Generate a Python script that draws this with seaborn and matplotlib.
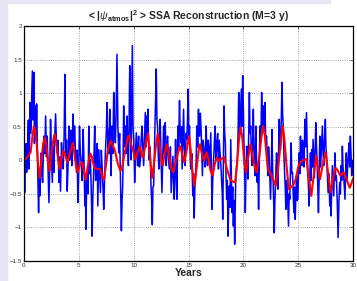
"""
SSA reconstruction chart: raw series (blue) and reconstruction (red)
"""
import matplotlib
matplotlib.use('Agg')
import matplotlib.pyplot as plt
from matplotlib.patches import Rectangle
import pandas as pd
import seaborn as sns

# raw series, (year, value), one list per decade
raw_decade1 = [
    (0.00, 0.00), (0.03, -0.20), (0.06, -0.48), (0.10, -0.10), (0.15, 0.11), (0.20, 0.25),
    (0.24, -0.18), (0.30, 0.05), (0.36, 0.36), (0.40, 0.60), (0.45, -0.13), (0.50, 0.30),
    (0.55, 0.86), (0.60, 0.40), (0.64, 0.51), (0.70, 0.95), (0.76, 1.33), (0.80, 0.60),
    (0.85, 0.71), (0.88, 1.05), (0.91, 1.31), (0.95, 0.25), (1.00, 0.51), (1.03, 0.30),
    (1.06, 0.81), (1.10, 0.35), (1.15, 0.84), (1.20, 0.40), (1.24, -0.08), (1.28, -0.40),
    (1.33, -0.78), (1.39, -0.20), (1.45, -0.53), (1.52, -0.15), (1.58, 0.11), (1.64, -0.20),
    (1.70, -0.33), (1.76, 0.05), (1.82, 0.36), (1.90, 0.10), (1.97, 0.66), (2.05, 0.05),
    (2.12, 0.36), (2.20, -0.20), (2.27, -0.63), (2.35, -0.10), (2.42, 0.61), (2.50, 0.10),
    (2.58, -0.33), (2.66, 0.20), (2.73, -0.18), (2.80, 0.35), (2.88, 0.69), (2.95, 0.30),
    (3.03, 0.11), (3.10, 0.30), (3.18, -0.33), (3.25, 0.05), (3.33, -0.46), (3.38, -0.10),
    (3.42, 0.26), (3.50, 0.00), (3.58, -0.13), (3.66, 0.40), (3.73, 1.28), (3.78, 0.50),
    (3.82, 0.11), (3.88, 0.30), (3.94, -0.46), (4.02, -0.05), (4.09, 0.51), (4.16, 0.00),
    (4.24, 0.21), (4.30, 0.45), (4.36, -0.08), (4.42, 0.20), (4.48, 0.69), (4.55, 0.20),
    (4.61, 0.51), (4.70, 0.10), (4.79, -0.18), (4.85, 0.15), (4.91, -0.63), (4.98, -0.20),
    (5.06, 0.51), (5.14, 0.10), (5.21, -0.03), (5.30, -0.30), (5.39, 0.46), (5.47, 0.00),
    (5.55, -0.68), (5.60, -0.30), (5.64, -1.03), (5.70, -0.50), (5.76, -0.18), (5.84, -0.50),
    (5.91, 0.51), (5.98, -0.20), (6.06, 0.01), (6.14, -0.50), (6.21, -1.13), (6.28, -0.55),
    (6.36, -0.13), (6.40, 0.20), (6.45, 0.51), (6.53, -0.30), (6.61, -0.08), (6.67, 0.25),
    (6.73, -0.68), (6.78, -0.20), (6.82, 0.16), (6.90, -0.20), (6.97, -0.48), (7.05, 0.15),
    (7.12, -0.08), (7.20, -0.40), (7.27, -0.73), (7.35, -0.30), (7.42, 0.11), (7.50, 0.40),
    (7.58, 0.86), (7.66, 0.10), (7.73, 0.46), (7.78, 0.10), (7.82, 0.76), (7.88, 0.20),
    (7.94, -0.23), (7.98, 0.10), (8.03, 0.51), (8.10, 0.10), (8.18, 1.01), (8.26, 0.50),
    (8.33, 0.26), (8.40, 0.70), (8.48, 1.58), (8.56, 0.50), (8.64, 0.11), (8.72, 0.40),
    (8.79, -0.23), (8.84, -0.60), (8.88, -1.05), (8.94, -0.60), (9.00, -0.38), (9.05, 0.20),
    (9.09, 0.81), (9.16, 0.20), (9.24, 0.51), (9.32, 0.10), (9.39, 0.66), (9.46, 0.20),
    (9.52, -0.08), (9.58, 0.50), (9.64, 1.41), (9.70, 0.60), (9.76, 0.01), (9.82, 0.80),
    (9.88, 1.71), (9.94, 0.50),
]
raw_decade2 = [
    (10.00, 0.31), (10.05, 0.00), (10.09, -0.33), (10.16, 0.10), (10.24, 0.41), (10.30, 0.10),
    (10.36, -0.08), (10.40, 0.20), (10.45, 0.36), (10.53, -0.10), (10.61, 0.01), (10.68, 0.30),
    (10.76, 0.51), (10.84, 0.20), (10.91, -0.08), (10.98, 0.30), (11.06, 0.71), (11.14, 0.20),
    (11.21, 0.66), (11.26, 0.30), (11.30, 0.76), (11.36, 0.30), (11.42, 0.01), (11.50, 0.20),
    (11.58, -0.38), (11.64, -0.60), (11.70, -0.96), (11.76, -0.40), (11.82, -0.38), (11.88, 0.00),
    (11.94, 0.51), (12.00, 0.90), (12.06, 1.36), (12.12, 0.60), (12.18, 0.51), (12.24, 0.10),
    (12.30, -0.13), (12.36, 0.20), (12.42, 0.61), (12.50, 0.00), (12.58, -0.48), (12.66, 0.10),
    (12.73, 0.51), (12.80, 0.10), (12.88, 0.56), (12.92, 0.20), (12.97, -0.08), (13.03, 0.20),
    (13.09, 0.36), (13.18, 0.00), (13.27, -0.13), (13.35, 0.20), (13.42, -0.48), (13.50, -0.20),
    (13.58, 0.06), (13.64, -0.30), (13.70, -0.58), (13.76, -0.20), (13.82, 0.31), (13.88, -0.20),
    (13.94, -0.58), (13.98, -0.10), (14.03, 0.51), (14.10, 0.20), (14.18, 0.89), (14.24, 0.40),
    (14.30, 0.26), (14.36, 0.50), (14.42, -0.13), (14.48, 0.30), (14.55, 0.76), (14.62, 0.20),
    (14.70, -0.08), (14.78, 0.40), (14.85, 0.31), (14.91, 0.60), (14.97, 1.06), (15.03, 0.30),
    (15.09, 0.51), (15.15, 0.10), (15.21, -0.13), (15.30, 0.10), (15.39, -0.53), (15.46, -0.20),
    (15.52, -0.86), (15.58, -0.40), (15.64, -0.23), (15.70, 0.00), (15.76, 0.51), (15.84, 0.20),
    (15.91, 0.76), (15.96, 0.40), (16.00, 0.36), (16.08, 0.70), (16.15, 0.46), (16.21, 0.10),
    (16.27, -0.23), (16.34, 0.30), (16.42, 0.16), (16.52, -0.10), (16.61, 0.51), (16.67, 0.10),
    (16.73, -0.08), (16.79, 0.30), (16.85, 0.21), (16.94, -0.10), (17.03, 0.41), (17.09, -0.20),
    (17.15, -0.73), (17.21, -0.30), (17.27, -0.08), (17.34, 0.20), (17.42, 0.51), (17.50, 0.00),
    (17.58, 0.26), (17.66, 0.40), (17.73, -0.13), (17.80, 0.30), (17.88, 0.11), (17.96, -0.10),
    (18.03, -0.33), (18.08, -0.50), (18.12, -0.88), (18.18, 0.00), (18.24, 0.81), (18.30, 0.40),
    (18.36, 0.26), (18.42, -0.20), (18.48, -0.58), (18.54, -0.30), (18.61, -1.13), (18.67, -0.60),
    (18.73, -0.38), (18.79, -0.70), (18.85, 0.31), (18.91, -0.20), (18.97, -0.78), (19.03, -0.40),
    (19.09, -0.98), (19.15, -0.60), (19.21, -1.25), (19.26, -0.70), (19.30, -0.33), (19.38, -0.10),
    (19.45, 0.01), (19.52, 0.40), (19.58, 1.01), (19.64, 0.40), (19.70, 0.51), (19.76, 0.80),
    (19.82, 1.06), (19.88, 0.50), (19.94, 1.26), (19.97, 0.90),
]
raw_decade3 = [
    (20.00, 0.81), (20.05, 0.30), (20.09, 0.01), (20.14, -0.30), (20.18, -0.78), (20.24, -0.20),
    (20.30, 0.21), (20.36, -0.10), (20.42, -0.28), (20.48, 0.30), (20.55, 1.01), (20.61, 0.40),
    (20.67, 0.51), (20.73, 0.10), (20.79, -0.08), (20.85, 0.30), (20.91, 0.76), (20.98, 0.10),
    (21.06, -0.23), (21.10, 0.10), (21.15, 0.51), (21.21, -0.10), (21.27, -0.33), (21.33, -0.10),
    (21.39, -0.73), (21.45, -0.10), (21.52, 0.51), (21.60, 0.30), (21.67, 1.01), (21.74, 0.50),
    (21.82, 0.81), (21.90, 0.40), (21.97, 0.86), (22.04, 0.30), (22.12, 0.36), (22.18, 0.00),
    (22.24, -0.23), (22.30, 0.20), (22.36, 0.01), (22.42, -0.30), (22.48, -0.58), (22.55, -0.10),
    (22.61, 0.46), (22.67, -0.10), (22.73, -0.38), (22.78, -0.70), (22.82, -1.08), (22.88, -0.60),
    (22.94, -0.33), (22.98, -0.10), (23.03, 0.11), (23.09, -0.20), (23.15, -0.43), (23.21, 0.10),
    (23.27, 0.61), (23.33, 0.20), (23.39, 0.16), (23.46, 0.60), (23.52, 1.16), (23.58, 0.70),
    (23.64, 0.51), (23.70, 0.10), (23.76, -0.18), (23.82, -0.40), (23.88, -0.73), (23.94, -0.30),
    (24.00, -0.38), (24.06, -0.70), (24.12, -0.98), (24.18, -0.50), (24.24, -0.58), (24.30, -0.10),
    (24.36, 0.26), (24.42, -0.20), (24.48, -0.18), (24.55, -0.50), (24.61, -0.78), (24.67, -0.40),
    (24.73, -0.88), (24.79, -0.50), (24.85, -0.23), (24.91, -0.60), (24.97, -0.58), (25.03, -0.20),
    (25.09, 0.11), (25.15, -0.20), (25.21, 0.36), (25.27, 0.00), (25.33, -0.08), (25.39, 0.30),
    (25.45, 0.21), (25.53, -0.10), (25.61, 0.61), (25.68, 0.20), (25.76, 0.71), (25.82, 0.20),
    (25.88, -0.18), (25.94, -0.40), (26.00, -0.68), (26.06, -0.30), (26.12, 0.11), (26.18, -0.30),
    (26.24, 0.16), (26.30, -0.10), (26.36, 0.31), (26.42, 0.00), (26.48, -0.26), (26.54, 0.10),
    (26.61, 0.56), (26.67, 0.20), (26.73, -0.03), (26.79, -0.40), (26.85, -0.78), (26.91, -0.30),
    (26.97, 0.36), (27.03, -0.10), (27.09, 0.06), (27.15, 0.30), (27.21, 0.51), (27.27, 0.10),
    (27.33, -0.08), (27.40, 0.30), (27.48, 0.61), (27.53, 0.20), (27.58, 0.11), (27.66, -0.20),
    (27.73, -0.48), (27.80, -0.20), (27.88, -0.68), (27.94, -0.40), (28.00, -0.83), (28.06, -0.40),
    (28.12, -0.08), (28.18, -0.30), (28.24, -0.53), (28.30, -0.20), (28.36, 0.11), (28.42, -0.30),
    (28.48, -0.23), (28.56, -0.60), (28.64, -1.15), (28.72, -0.60), (28.79, -0.33), (28.85, -0.50),
    (28.91, -0.08), (28.97, -0.30), (29.03, 0.21), (29.09, -0.10), (29.15, -0.23), (29.21, -0.40),
    (29.27, -0.58), (29.33, -0.20), (29.39, 0.11), (29.45, -0.30), (29.52, -0.08), (29.58, 0.10),
    (29.64, 0.26), (29.70, -0.10), (29.76, 0.36), (29.82, 0.10), (29.88, -0.23), (29.94, 0.00),
    (30.00, -0.18),
]

# SSA reconstruction (M = 3 y)
ssa_years = [
    0.0, 0.3, 0.6, 0.8, 0.9, 1.0, 1.15, 1.3, 1.42, 1.55, 1.75, 1.9, 2.05, 2.2, 2.33, 2.5, 2.7, 2.8,
    2.95, 3.1, 3.25, 3.4, 3.6, 3.75, 3.95, 4.2, 4.45, 4.6, 4.75, 4.9, 5.1, 5.3, 5.45, 5.6, 5.8, 6.05,
    6.2, 6.4, 6.7, 6.95, 7.15, 7.3, 7.45, 7.65, 7.9, 8.1, 8.3, 8.55, 8.8, 8.95, 9.2, 9.45, 9.55, 9.75,
    10.0, 10.15, 10.35, 10.55, 10.75, 10.85, 11.1, 11.3, 11.45, 11.6, 11.7, 11.85, 12.05, 12.2, 12.35,
    12.5, 12.65, 12.85, 13.0, 13.2, 13.4, 13.6, 13.8, 14.05, 14.25, 14.45, 14.6, 14.8, 15.05, 15.2,
    15.35, 15.55, 15.75, 15.95, 16.05, 16.25, 16.4, 16.65, 16.85, 17.0, 17.2, 17.4, 17.6, 17.8, 18.0,
    18.25, 18.45, 18.6, 18.8, 18.95, 19.25, 19.4, 19.6, 19.75, 19.9, 20.0, 20.1, 20.25, 20.45, 20.65,
    20.85, 21.05, 21.2, 21.45, 21.65, 21.8, 21.95, 22.1, 22.25, 22.5, 22.75, 22.95, 23.15, 23.4, 23.6,
    23.75, 23.95, 24.15, 24.35, 24.55, 24.8, 25.0, 25.2, 25.45, 25.75, 25.95, 26.2, 26.4, 26.65, 26.8,
    27.0, 27.25, 27.5, 27.7, 27.95, 28.15, 28.4, 28.6, 28.85, 29.15, 29.4, 29.7, 29.85, 30.0,
]
ssa_vals = [
    0.00, 0.04, 0.12, 0.40, 0.51, 0.45, 0.26, -0.10, -0.26, -0.05, 0.25, 0.34, 0.20, -0.05, -0.16, 0.10, 0.33, 0.39,
    0.25, 0.02, -0.13, 0.02, 0.14, 0.08, -0.03, 0.12, 0.26, 0.10, -0.10, -0.18, -0.06, -0.03, -0.15, -0.29, -0.10, 0.10,
    0.05, -0.11, -0.13, -0.13, -0.25, -0.29, -0.10, 0.15, 0.29, 0.22, 0.14, -0.05, -0.16, -0.10, 0.12, 0.33, 0.37, 0.25,
    0.11, 0.01, 0.12, 0.21, 0.06, 0.04, 0.25, 0.40, 0.15, -0.15, -0.26, -0.05, 0.25, 0.40, 0.25,
    0.02, -0.08, 0.12, 0.24, 0.10, -0.10, -0.18, -0.05, 0.12, 0.21, 0.08, -0.03, 0.12, 0.36, 0.15,
    -0.15, -0.38, -0.10, 0.18, 0.24, 0.08, -0.01, 0.12, 0.00, -0.15, -0.23, -0.05, 0.04, -0.01, 0.02,
    0.05, -0.10, -0.18, -0.28, -0.31, -0.33, -0.10, 0.30, 0.49, 0.35, 0.15, -0.05, -0.18, 0.05, 0.24,
    0.05, -0.10, -0.18, 0.05, 0.35, 0.51, 0.40, 0.10, -0.13, -0.21, -0.30, -0.38, -0.15, 0.25, 0.51,
    0.30, -0.10, -0.43, -0.40, -0.37, -0.27, -0.10, -0.03, 0.00, 0.02, -0.25, -0.53, -0.25, 0.07, -0.10,
    -0.28, -0.05, 0.12, -0.15, -0.48, -0.30, -0.11, -0.15, -0.23, -0.18, -0.28, -0.41, -0.35, -0.27,
]

x_ticks = [0, 5, 10, 15, 20, 25, 30]
y_ticks = [-1.5, -1, -0.5, 0, 0.5, 1, 1.5, 2]

sns.set_style('white')
plt.rcParams['font.family'] = ['Liberation Sans', 'DejaVu Sans']
plt.rcParams['mathtext.fontset'] = 'custom'
plt.rcParams['mathtext.rm'] = 'Liberation Sans'
plt.rcParams['mathtext.bf'] = 'Liberation Sans:bold'
plt.rcParams['mathtext.it'] = 'Liberation Sans:italic'

raw = pd.DataFrame(raw_decade1 + raw_decade2 + raw_decade3, columns=['year', 'value'])
ssa = pd.DataFrame({'year': ssa_years, 'value': ssa_vals})

fig = plt.figure(figsize=(3.57, 2.81), dpi=100, facecolor='white')
# light frame strip from the screenshot
fig.patches.append(Rectangle((0, 0), 7 / 357, 1, transform=fig.transFigure,
                             color='#e7e7f3', zorder=0))
fig.patches.append(Rectangle((0, 1 - 3 / 281), 330 / 357, 3 / 281,
                             transform=fig.transFigure, color='#e7e7f3', zorder=0))

ax = fig.add_axes([24 / 357, 20 / 281, 329 / 357, 235 / 281])

sns.lineplot(data=raw, x='year', y='value', ax=ax, color='#0000ff',
             linewidth=1.1, sort=False, estimator=None)
sns.lineplot(data=ssa, x='year', y='value', ax=ax, color='#ff0000',
             linewidth=1.5, sort=False, estimator=None)

ax.set_xlim(0, 30)
ax.set_ylim(-1.5, 2)
ax.set_xticks(x_ticks)
ax.set_yticks(y_ticks)
ax.set_xticklabels([str(t) for t in x_ticks])
ax.set_yticklabels(['\u22121.5', '\u22121', '\u22120.5', '0', '0.5', '1', '1.5', '2'])
ax.tick_params(direction='in', length=2, width=0.5, labelsize=4.5,
               labelcolor='#333333', top=True, right=True, pad=1.5)
ax.grid(True, linestyle=':', color='#888888', linewidth=0.6)

for spine in ax.spines.values():
    spine.set_color('black')
    spine.set_linewidth(0.9)

ax.set_xlabel('Years', fontsize=7.5, fontweight='bold', labelpad=0)
ax.set_ylabel('')
ax.set_title(r'< |$\psi_{\mathbf{atmos}}$|$^{\mathbf{2}}$ > SSA Reconstruction (M=3 y)',
             fontsize=7.5, fontweight='bold', pad=4)

fig.savefig('out.png', dpi=100)
